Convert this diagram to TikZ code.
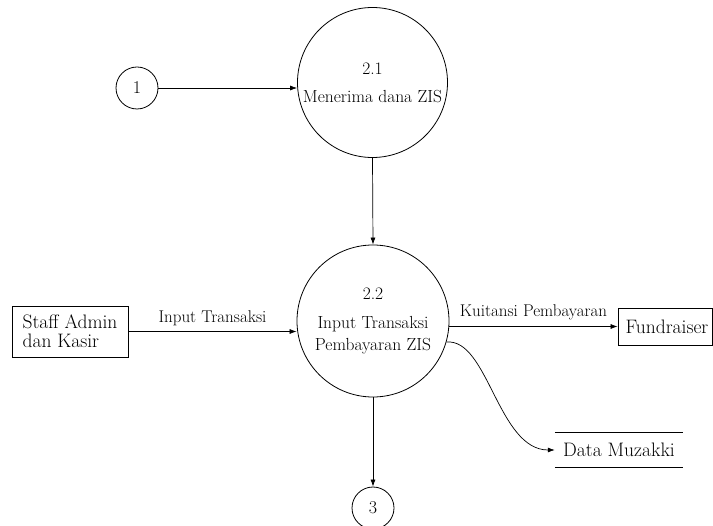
\documentclass[tikz,border=0pt]{standalone}
\usetikzlibrary{arrows.meta,calc}
\begin{document}
\begin{tikzpicture}[x=1pt,y=-1pt,
  proc/.style={draw,circle,line width=0.8pt,inner sep=0pt,align=center,font=\fontsize{17.5}{22}\selectfont},
  conn/.style={draw,circle,line width=0.8pt,inner sep=0pt,minimum size=42pt,font=\fontsize{18}{20}\selectfont},
  ext/.style={draw,line width=0.8pt,align=left,inner sep=3pt,font=\fontsize{19.5}{21}\selectfont},
  lbl/.style={font=\fontsize{17}{18}\selectfont,inner sep=0pt},
  flow/.style={line width=0.7pt,-{Latex[length=7pt,width=5pt]}}]
\useasboundingbox (0,0) rectangle (713,526);
\fill[white] (0,0) rectangle (713,526);
% processes
\node[proc,minimum size=150pt] (p21) at (372.5,82.5) {2.1\\[6pt]Menerima dana ZIS};
\node[proc,minimum size=152pt] (p22) at (373,321) {2.2\\[7pt]Input Transaksi\\Pembayaran ZIS};
% connectors
\node[conn] (c1) at (137,88) {1};
\node[conn] (c3) at (373,508) {3};
% externals
\node[ext,minimum width=116pt,minimum height=51pt] (staff) at (70,331.5) {Staff Admin\\[-2pt]dan Kasir};
\node[ext,minimum width=94pt,minimum height=37pt,inner sep=1pt] (fund) at (665,326.5) {\hspace*{4pt}Fundraiser};
% data store
\node[minimum width=128pt,minimum height=34pt,inner sep=0pt,font=\fontsize{19.5}{21}\selectfont] (dm) at (619,450) {Data Muzakki};
\draw[line width=0.8pt] (dm.north west) -- (dm.north east);
\draw[line width=0.8pt] (dm.south west) -- (dm.south east);
% flows
\draw[flow] (c1.east) -- (c1.east -| p21.west);
\draw[flow] (p21.south) -- (p22.north);
\draw[flow] (staff.east) -- node[lbl,above=5pt] (l1) {Input Transaksi} (staff.east -| p22.west);
\draw[flow] (p22.east |- fund.west) -- node[lbl,above=6pt] (l2) {Kuitansi Pembayaran} (fund.west);
\draw[flow] (p22.-16) .. controls (488,338) and (498,450) .. (dm.west);
\draw[flow] (p22.south) -- (c3.north);
\end{tikzpicture}
\end{document}
